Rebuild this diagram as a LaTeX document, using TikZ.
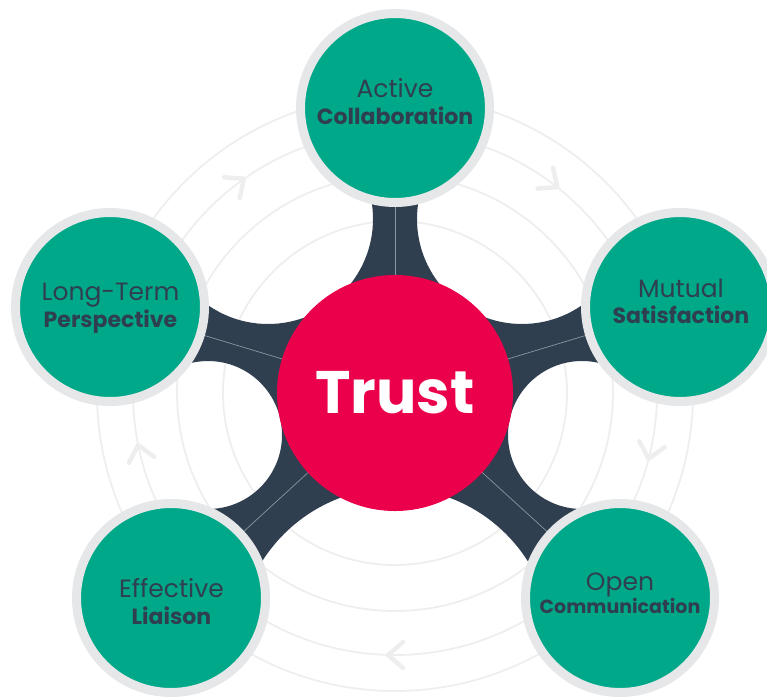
\documentclass[tikz,border=0pt]{standalone}
\usepackage{fontspec}
\setmainfont{Poppins}
\usetikzlibrary{calc}

\definecolor{hub}{RGB}{234,0,75}
\definecolor{leaf}{RGB}{0,168,138}
\definecolor{navy}{RGB}{47,63,80}
\definecolor{ringgrey}{RGB}{230,231,232}
\definecolor{orbit}{RGB}{238,238,238}
\definecolor{seam}{RGB}{140,150,160}

\begin{document}
\begin{tikzpicture}[x=1pt,y=-1pt,
  leafnode/.style={circle, fill=leaf, draw=ringgrey, line width=9pt,
    minimum size=189pt, inner sep=0pt},
  hubnode/.style={circle, fill=hub, minimum size=236pt, inner sep=0pt,
    text=white, font=\bfseries\fontsize{60}{60}\selectfont},
  seamline/.style={draw=seam, line width=0.7pt},
  lighttext/.style={anchor=base, text=navy, font=\fontsize{25}{25}\selectfont},
  boldtext/.style={anchor=base, text=navy, font=\bfseries\fontsize{22}{22}\selectfont},
  orbitline/.style={draw=orbit, line width=1.8pt},
  chevron/.style={draw=orbit, line width=4.5pt, line cap=round, line join=round},
]
\useasboundingbox (0,0) rectangle (767,696);

% centres of the hub and the five satellites
\coordinate (C) at (395,393);
\coordinate (A) at (395,108);
\coordinate (M) at (680,307);
\coordinate (O) at (620,598);
\coordinate (E) at (171,598);
\coordinate (L) at (110,307);

% centres of the round gaps between the spokes
\coordinate (gAM) at (522,219);
\coordinate (gMO) at (582,435);
\coordinate (gOE) at (395,645);
\coordinate (gEL) at (208,435);
\coordinate (gLA) at (268,219);

% concentric orbits
\foreach \r in {172,218,262,298}
  \draw[orbitline] (C) circle[radius=\r];

% clockwise chevrons on the third orbit
\foreach \px/\py/\a in {238.3/182.9/36.7, 551.7/182.9/-36.7,
                        650.2/452/-103, 395/655/180, 139.8/452/103}
  \draw[chevron, shift={(\px,\py)}, rotate=\a] (-8,-13) -- (7,0) -- (-8,13);

% dark spoked body with round gaps cut out
\begin{scope}
  \clip (A) -- (gAM) -- (M) -- (gMO) -- (O) -- (gOE) -- (E) -- (gEL)
        -- (L) -- (gLA) -- cycle;
  \fill[navy, even odd rule] (0,0) rectangle (767,696)
    (gAM) circle[radius=105] (gMO) circle[radius=74]
    (gOE) circle[radius=157] (gEL) circle[radius=74]
    (gLA) circle[radius=105];
\end{scope}

% thin seams along the spokes
\foreach \p in {A,M,O,E,L}
  \draw[seamline] (C) -- (\p);

% satellites
\node[leafnode] (nA) at (A) {};
\node[leafnode] (nM) at (M) {};
\node[leafnode] (nO) at (O) {};
\node[leafnode] (nE) at (E) {};
\node[leafnode] (nL) at (L) {};

% hub
\node[hubnode] (nC) at (C) {Trust};

% satellite labels
\node[lighttext] (tA1) at (395,97) {Active};
\node[boldtext]  (tA2) at (395,124) {Collaboration};
\node[lighttext] (tM1) at (681,297) {Mutual};
\node[boldtext]  (tM2) at (681,323) {Satisfaction};
\node[lighttext] (tL1) at (110.5,300) {Long-Term};
\node[boldtext]  (tL2) at (110.5,327) {Perspective};
\node[lighttext] (tO1) at (620,590) {Open};
\node[boldtext, font=\bfseries\fontsize{19}{19}\selectfont] (tO2) at (620,613) {Communication};
\node[lighttext] (tE1) at (171.5,597) {Effective};
\node[boldtext]  (tE2) at (171.5,624) {Liaison};
\end{tikzpicture}
\end{document}
